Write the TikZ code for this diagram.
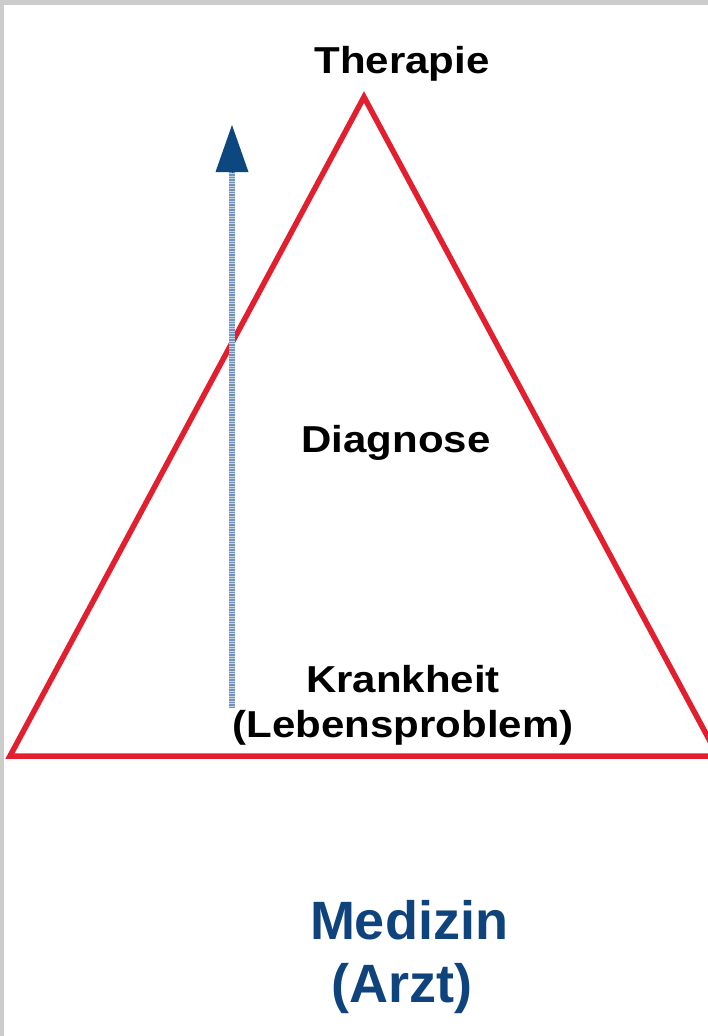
\documentclass[tikz,border=0pt]{standalone}
\usepackage{fontspec}
\setmainfont{Liberation Sans}
\newfontfamily\widesans[FakeStretch=1.12]{Liberation Sans}
\usetikzlibrary{arrows.meta}
\definecolor{trired}{HTML}{E11F2E}
\definecolor{headblue}{HTML}{0C477F}
\definecolor{shaftblue}{HTML}{7393BD}
\definecolor{shaftlight}{HTML}{C4D2E4}
\definecolor{titleblue}{HTML}{0F437D}
\definecolor{frame}{HTML}{CCCCCC}
\tikzset{
  lbl/.style={anchor=base, inner sep=0pt, font=\widesans\bfseries\fontsize{37.5}{45}\selectfont, text=black},
  bigl/.style={anchor=base, inner sep=0pt, font=\bfseries\fontsize{54}{63}\selectfont, text=titleblue},
  tri/.style={draw=trired, line width=5.5pt},
}
\begin{document}
\begin{tikzpicture}[x=1pt,y=-1pt]
\useasboundingbox (0,0) rectangle (708,1036);
\fill[frame] (0,0) rectangle (708,1036);
\fill[white] (4,5) rectangle (708,1036);
\begin{scope}
\clip (4,5) rectangle (708,1036);
\coordinate (bl) at (10,756);
\coordinate (apex) at (364,97);
\coordinate (br) at (718,756);
\draw[tri] (bl) -- (apex) -- (br) -- cycle;
\coordinate (start) at (232,708);
\coordinate (tip) at (232,125);
\coordinate (hbase) at (232,172);
\draw[shaftlight, line width=6pt] (start) -- (hbase);
\draw[shaftblue, line width=6pt, dash pattern=on 1.2pt off 1.3pt] (start) -- (hbase);
\draw[headblue, line width=0pt, -{Triangle[length=47pt,width=33pt]}] (hbase) -- (tip);
\end{scope}
\node[lbl] (ther) at (402,73) {Therapie};
\node[lbl] (diag) at (396,452) {Diagnose};
\node[lbl] (krank) at (403,692) {Krankheit};
\node[lbl] (leb) at (403,737) {(Lebensproblem)};
\node[bigl] (med) at (409,939) {Medizin};
\node[bigl] (arzt) at (402,1002) {(Arzt)};
\end{tikzpicture}
\end{document}
